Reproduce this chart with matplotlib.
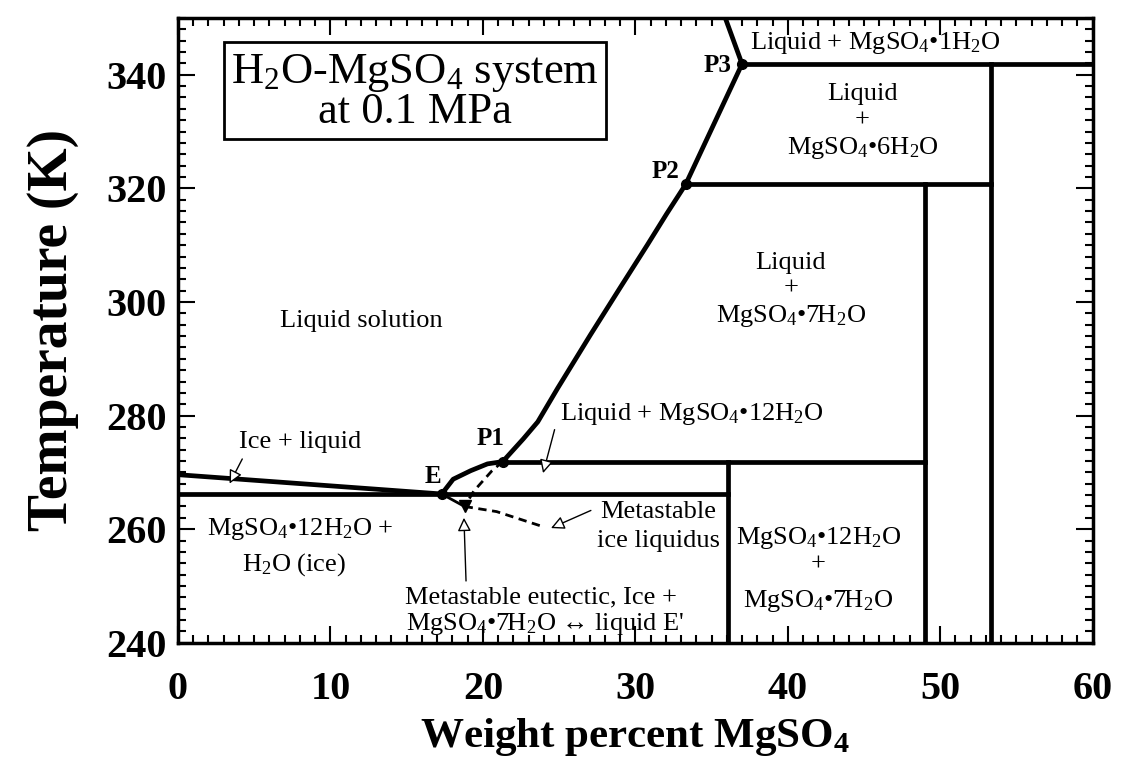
import matplotlib
matplotlib.use("Agg")
import matplotlib.pyplot as plt
from matplotlib.ticker import MultipleLocator

plt.rcParams['font.family'] = ['Liberation Serif', 'DejaVu Serif']
plt.rcParams['mathtext.fontset'] = 'custom'
plt.rcParams['mathtext.rm'] = 'Liberation Serif'
plt.rcParams['mathtext.it'] = 'Liberation Serif:italic'
plt.rcParams['mathtext.bf'] = 'Liberation Serif:bold'

# --- data (wt% MgSO4, temperature K) ---
ice_liq_x = [0.0, 17.3]
ice_liq_t = [269.6, 266.2]

e_p1_x = [17.3, 18.05, 19.2, 20.3, 21.3]
e_p1_t = [266.2, 268.8, 270.3, 271.5, 271.9]

liq_x = [21.3, 22.65, 23.6, 24.9, 27.05, 29.0, 30.8, 32.05, 33.3, 37.0, 35.9]
liq_t = [271.9, 275.9, 278.9, 284.8, 294.2, 302.5, 310.1, 315.5, 320.7, 341.9, 350.0]

# horizontal invariant lines: (x start, x end, T)
horiz_x0 = [0.0, 21.3, 33.3, 37.0]
horiz_x1 = [36.1, 49.0, 53.3, 60.0]
horiz_t = [266.2, 271.9, 320.7, 341.9]

# vertical hydrate lines: (x, T top)
vert_x = [36.1, 49.0, 53.3]
vert_ttop = [271.9, 320.7, 341.9]

# metastable branches
meta7_x = [21.3, 20.6, 19.4, 18.8]
meta7_t = [271.9, 270.3, 266.7, 264.0]
metaice_x = [18.8, 20.9, 24.0]
metaice_t = [264.0, 263.1, 260.4]
ext_x = [17.3, 18.8]
ext_t = [266.2, 264.0]

pts_x = [17.3, 21.3, 33.3, 37.0]
pts_t = [266.2, 271.9, 320.7, 341.9]
eprime_x, eprime_t = 18.8, 264.0

fig = plt.figure(figsize=(11.23, 7.68), dpi=100)
ax = fig.add_axes([0.1585, 0.163, 0.8145, 0.8136])
ax.set_xlim(0, 60)
ax.set_ylim(240, 350)

lw = 3.4
ax.plot(ice_liq_x, ice_liq_t, color='k', lw=lw)
ax.plot(e_p1_x, e_p1_t, color='k', lw=lw)
ax.plot(liq_x, liq_t, color='k', lw=lw)
for x0, x1, t in zip(horiz_x0, horiz_x1, horiz_t):
    ax.plot([x0, x1], [t, t], color='k', lw=lw)
for x, t in zip(vert_x, vert_ttop):
    ax.plot([x, x], [240, t], color='k', lw=lw)
ax.plot(meta7_x, meta7_t, color='k', lw=2, ls=(0, (3, 2)))
ax.plot(metaice_x, metaice_t, color='k', lw=2, ls=(0, (3, 2)))
ax.plot(ext_x, ext_t, color='k', lw=2)
ax.plot(pts_x, pts_t, 'o', color='k', ms=7)
ax.plot([eprime_x], [eprime_t], 'v', color='k', ms=8)

# point labels
bold = dict(fontweight='bold', fontsize=18)
ax.text(16.7, 269.2, 'E', ha='center', va='center', **bold)
ax.text(20.5, 275.9, 'P1', ha='center', va='center', **bold)
ax.text(32.0, 323.0, 'P2', ha='center', va='center', **bold)
ax.text(36.3, 341.6, 'P3', ha='right', va='center', **bold)

fs = 19
sub = r'$\mathregular{_%s}$'
mg = 'MgSO' + sub % '4' + '•'
w = 'H' + sub % '2' + 'O'
arrow = dict(arrowstyle='-|>', fc='white', ec='k', lw=1, mutation_scale=20)

ax.text(45.7, 345.6, 'Liquid + ' + mg + '1' + w, ha='center', va='center', fontsize=fs)
ax.text(44.9, 336.6, 'Liquid', ha='center', va='center', fontsize=fs)
ax.text(44.9, 332.0, '+', ha='center', va='center', fontsize=fs)
ax.text(44.9, 327.1, mg + '6' + w, ha='center', va='center', fontsize=fs)
ax.text(40.2, 306.8, 'Liquid', ha='center', va='center', fontsize=fs)
ax.text(40.2, 302.4, '+', ha='center', va='center', fontsize=fs)
ax.text(40.2, 297.6, mg + '7' + w, ha='center', va='center', fontsize=fs)
ax.text(12.0, 296.6, 'Liquid solution', ha='center', va='center', fontsize=fs)
ax.text(8.0, 275.4, 'Ice + liquid', ha='center', va='center', fontsize=fs)
ax.annotate('', xy=(3.3, 267.6), xytext=(4.3, 272.8), arrowprops=arrow)
ax.text(33.7, 280.2, 'Liquid + ' + mg + '12' + w, ha='center', va='center', fontsize=fs)
ax.annotate('', xy=(23.9, 269.4), xytext=(24.75, 278.0), arrowprops=arrow)
ax.text(8.0, 260.0, mg + '12' + w + ' +', ha='center', va='center', fontsize=fs)
ax.text(7.6, 253.8, w + ' (ice)', ha='center', va='center', fontsize=fs)
ax.text(31.5, 263.0, 'Metastable', ha='center', va='center', fontsize=fs)
ax.text(31.5, 257.9, 'ice liquidus', ha='center', va='center', fontsize=fs)
ax.annotate('', xy=(24.3, 260.0), xytext=(27.25, 263.5), arrowprops=arrow)
ax.text(23.8, 248.0, "Metastable eutectic, Ice +", ha='center', va='center', fontsize=fs)
ax.text(24.1, 243.4, mg + '7' + w + " ↔ liquid E'", ha='center', va='center', fontsize=fs)
ax.annotate('', xy=(18.75, 262.5), xytext=(18.9, 250.4), arrowprops=arrow)
ax.text(42.0, 258.5, mg + '12' + w, ha='center', va='center', fontsize=fs)
ax.text(42.0, 253.8, '+', ha='center', va='center', fontsize=fs)
ax.text(42.0, 247.4, mg + '7' + w, ha='center', va='center', fontsize=fs)

# title box
ax.text(15.56, 337.0, 'H' + sub % '2' + 'O-MgSO' + sub % '4' + ' system\nat 0.1 MPa',
        ha='center', va='center', fontsize=32, linespacing=0.95,
        bbox=dict(boxstyle='square,pad=0.16', fc='white', ec='k', lw=2))

# axes styling
ax.xaxis.set_major_locator(MultipleLocator(10))
ax.xaxis.set_minor_locator(MultipleLocator(1))
ax.yaxis.set_major_locator(MultipleLocator(20))
ax.yaxis.set_minor_locator(MultipleLocator(2))
ax.tick_params(which='both', direction='in', top=True, right=True, width=1.5)
ax.tick_params(which='major', length=12, labelsize=29)
ax.tick_params(axis='x', which='major', pad=20)
ax.tick_params(axis='y', which='major', pad=8)
ax.tick_params(which='minor', length=6)
for lab in ax.get_xticklabels() + ax.get_yticklabels():
    lab.set_fontweight('bold')
for s in ax.spines.values():
    s.set_linewidth(2.5)

ax.set_xlabel('Weight percent MgSO' + sub % '4', fontsize=31, fontweight='bold', labelpad=6)
ax.set_ylabel('Temperature (K)', fontsize=40, fontweight='bold', labelpad=20)

fig.savefig('out.png', dpi=100)
